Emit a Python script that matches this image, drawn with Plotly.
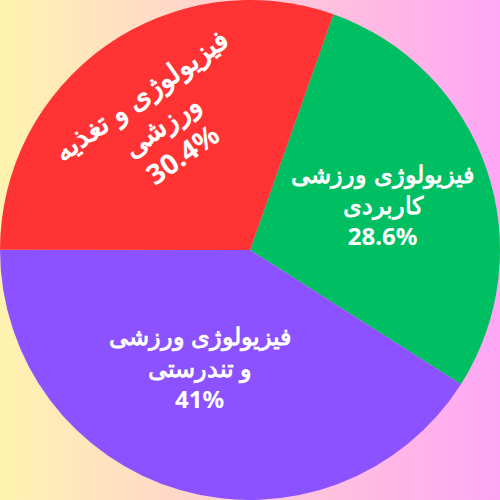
import plotly.graph_objects as go

# داده‌ها
labels = ["فیزیولوژی ورزشی<br>کاربردی", "فیزیولوژی ورزشی<br>و تندرستی", "فیزیولوژی و تغذیه<br>ورزشی"]
values = [28.6, 41, 30.4]
colors = ["#00BF63", "#8C52FF", "#FF3333"]

# هر برش متن خودش را در یک لایه جدا دارد
tmpl_green = ["%{label}<br>%{percent}", "", ""]
tmpl_purple = ["", "%{label}<br>%{percent}", ""]
tmpl_red = ["", "", "%{label}<br>%{percent}"]

clear = ['rgba(0,0,0,0)'] * 3

fig = go.Figure()

# پس‌زمینه گرادیان (زرد به صورتی)
fig.add_trace(go.Scatter(
    x=[0, 1, 1, 0, 0], y=[0, 0, 1, 1, 0],
    mode='lines', fill='toself', line=dict(width=0),
    fillgradient=dict(type='horizontal', colorscale=[[0, '#FFF3B0'], [1, '#FFA6F6']]),
    hoverinfo='skip', showlegend=False
))

# نمودار اصلی + متن برش سبز
fig.add_trace(go.Pie(
    labels=labels, values=values, sort=False,
    direction='clockwise', rotation=19.5,
    marker=dict(colors=colors, line=dict(width=0)),
    texttemplate=tmpl_green,
    textposition='inside',
    insidetextorientation='horizontal',
    textfont=dict(family='Noto Sans', color='white', size=24, weight='bold'),
    domain=dict(x=[0, 1], y=[0, 1]),
    showlegend=False
))

# متن برش بنفش (کمی به چپ)
fig.add_trace(go.Pie(
    labels=labels, values=values, sort=False,
    direction='clockwise', rotation=26.5,
    marker=dict(colors=clear, line=dict(width=0)),
    texttemplate=tmpl_purple,
    textposition='inside',
    insidetextorientation='horizontal',
    textfont=dict(family='Noto Sans', color='white', size=24, weight='bold'),
    hoverinfo='skip',
    domain=dict(x=[0, 1], y=[0, 1]),
    showlegend=False
))

# متن برش قرمز (مماسی)
fig.add_trace(go.Pie(
    labels=labels, values=values, sort=False,
    direction='clockwise', rotation=19.5,
    marker=dict(colors=clear, line=dict(width=0)),
    texttemplate=tmpl_red,
    textposition='inside',
    insidetextorientation='tangential',
    textfont=dict(family='Noto Sans', color='white', size=28, weight='bold'),
    hoverinfo='skip',
    domain=dict(x=[0, 1], y=[0, 1]),
    showlegend=False
))

fig.update_xaxes(visible=False, range=[0, 1], fixedrange=True)
fig.update_yaxes(visible=False, range=[0, 1], fixedrange=True)

fig.update_layout(
    width=500,
    height=500,
    margin=dict(l=0, r=0, t=0, b=0),
    paper_bgcolor='rgba(0,0,0,0)',
    plot_bgcolor='rgba(0,0,0,0)',
    showlegend=False
)

fig.write_html("out.html", config=dict(displayModeBar=False),
               post_script="document.body.style.margin='0';")
